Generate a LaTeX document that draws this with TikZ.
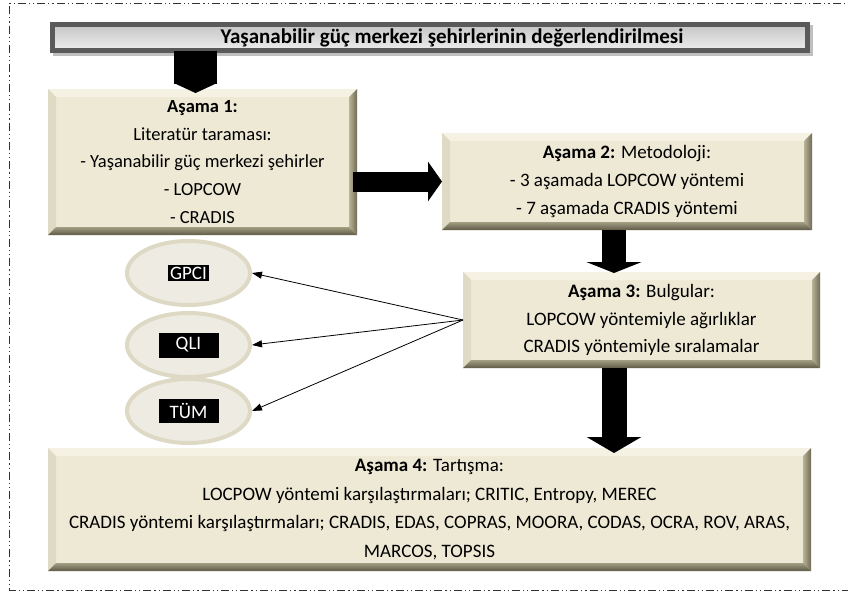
\documentclass[tikz,border=0pt]{standalone}
\usepackage{fontspec}
\setmainfont{Carlito}
\usetikzlibrary{arrows.meta,calc,shapes.geometric}
\definecolor{face}{HTML}{EDE9D5}
\definecolor{bvtopc}{HTML}{F5F2E4}
\definecolor{bvleftc}{HTML}{DEDAC3}
\definecolor{bvrightA}{HTML}{B8B397}
\definecolor{bvrightB}{HTML}{6F6B55}
\definecolor{bvbotA}{HTML}{A39E82}
\definecolor{bvbotB}{HTML}{5E5A47}
\definecolor{ellfill}{HTML}{EEECE2}
\definecolor{elledge}{HTML}{DDD9C4}
\definecolor{titleedge}{HTML}{5A5A5A}
\tikzset{
  panel/.style={rectangle, fill=face, outer sep=0pt, inner sep=0pt, align=center,
    font=\fontsize{19}{27.7}\selectfont},
  titlebox/.style={rectangle, draw=titleedge, line width=5pt, top color=gray!45,
    middle color=gray!4, bottom color=gray!14, outer sep=0pt, align=center,
    font=\fontsize{21}{24}\selectfont\bfseries},
  oval/.style={ellipse, draw=elledge, line width=4pt, fill=ellfill,
    minimum width=123pt, minimum height=64pt, inner sep=0pt},
  tag/.style={fill=black, text=white, inner sep=2pt, font=\fontsize{19}{22}\selectfont},
  thinarrow/.style={draw=black, line width=0.8pt, -{Triangle[length=10pt,width=7pt]}},
}
\newcommand\bevelit[1]{%
  \fill[bvtopc] (#1.north west) -- (#1.north east) -- ($(#1.north east)+(-8,8)$) -- ($(#1.north west)+(8,8)$) -- cycle;
  \fill[bvleftc] (#1.north west) -- ($(#1.north west)+(8,8)$) -- ($(#1.south west)+(8,-8)$) -- (#1.south west) -- cycle;
  \shade[left color=bvrightA, right color=bvrightB] (#1.north east) -- (#1.south east) -- ($(#1.south east)+(-8,-8)$) -- ($(#1.north east)+(-8,8)$) -- cycle;
  \shade[top color=bvbotA, bottom color=bvbotB] (#1.south west) -- ($(#1.south west)+(8,-8)$) -- ($(#1.south east)+(-8,-8)$) -- (#1.south east) -- cycle;
}
\begin{document}
\begin{tikzpicture}[x=1pt,y=-1pt]
\useasboundingbox (0,0) rectangle (848,592);
\clip (0,0) rectangle (848,592);
\fill[white] (0,0) rectangle (848,592);
% frame
\draw[line width=0.9pt, black!80, dash pattern=on 8pt off 3pt on 1.2pt off 3pt on 1.2pt off 3pt]
  (860,3) -- (9.5,3) -- (9.5,590) -- (860,590);

% title (with soft shadow)
\fill[black!25] (53,25) rectangle (813,56);
\node[titlebox, minimum width=755pt, minimum height=26pt, inner sep=0pt] (title) at (430,37.5)
  {\hspace*{44pt}Yaşanabilir güç merkezi şehirlerinin değerlendirilmesi};

% panels
\node[panel, minimum width=309pt, minimum height=146pt, font=\fontsize{18.5}{27.7}\selectfont] (a1) at (202.5,162)
  {\textbf{Aşama 1:}\\Literatür taraması:\\- Yaşanabilir güç merkezi şehirler\\- LOPCOW\\- CRADIS};
\bevelit{a1}
\node[panel, minimum width=370pt, minimum height=97pt] (a2) at (627,181.5)
  {\textbf{Aşama 2:} Metodoloji:\\- 3 aşamada LOPCOW yöntemi\\- 7 aşamada CRADIS yöntemi};
\bevelit{a2}
\node[panel, minimum width=357pt, minimum height=96pt] (a3) at (641.5,320)
  {\textbf{Aşama 3:} Bulgular:\\LOPCOW yöntemiyle ağırlıklar\\CRADIS yöntemiyle sıralamalar};
\bevelit{a3}
\node[panel, minimum width=763pt, minimum height=123pt, font=\fontsize{19}{28.5}\selectfont] (a4) at (429.5,509.5)
  {\textbf{Aşama 4:} Tartışma:\\LOCPOW yöntemi karşılaştırmaları; CRITIC, Entropy, MEREC\\CRADIS yöntemi karşılaştırmaları; CRADIS, EDAS, COPRAS, MOORA, CODAS, OCRA, ROV, ARAS,\\MARCOS, TOPSIS};
\bevelit{a4}

% ellipses
\node[oval] (gpci) at (188.5,273) {};
\node[tag] (gpcitag) at (gpci.center) {GPCI};
\node[oval] (qli) at (188.5,345) {};
\node[tag, minimum width=60pt, minimum height=25pt] (qlitag) at (qli.center) {QLI};
\node[oval] (tum) at (188.5,411) {};
\node[tag, minimum width=60pt, minimum height=24pt] (tumtag) at (tum.center) {TÜM};

% big arrows
\draw[line width=43pt, -{Triangle[width=43pt,length=10pt]}]
  ([xshift=-7pt]a1.north |- title.south) -- ([xshift=-7pt,yshift=-4pt]a1.north);
\draw[line width=20pt, -{Triangle[width=39pt,length=14pt]}]
  ([xshift=-4pt]a1.east |- a2.west) -- (a2.west);
\coordinate (ax) at ([xshift=-13pt]a2.south);
\draw[line width=24pt, -{Triangle[width=55pt,length=11pt]}]
  (ax) -- ([yshift=-1pt]ax |- a3.north);
\draw[line width=25pt, -{Triangle[width=54pt,length=16pt]}]
  (ax |- a3.south) -- ([yshift=-5pt]ax |- a4.north);

% thin arrows
\draw[thinarrow] (a3.west) -- (gpci.east);
\draw[thinarrow] (a3.west) -- (qli.east);
\draw[thinarrow] (a3.west) -- (tum.east);
\end{tikzpicture}
\end{document}
